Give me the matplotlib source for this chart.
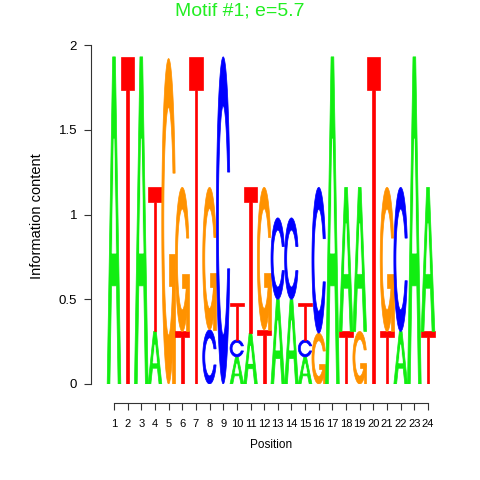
import numpy as np
import matplotlib
matplotlib.use("Agg")
import matplotlib.pyplot as plt
from matplotlib.patches import Polygon

plt.rcParams['font.family'] = ['Liberation Sans', 'DejaVu Sans']

positions = list(range(1, 25))
height_A = [1.93, 0, 1.93, 0.31, 0, 0, 0, 0, 0, 0.16, 0.30, 0, 0.50, 0.50, 0.16, 0, 1.93, 0.85, 0.85, 0, 0, 0.31, 1.93, 0.85]
height_C = [0, 0, 0, 0, 0, 0, 0, 0.32, 1.93, 0.10, 0, 0, 0.48, 0.48, 0.10, 0.86, 0, 0, 0, 0, 0, 0.85, 0, 0]
height_G = [0, 0, 0, 0, 1.92, 0.85, 0, 0.84, 0, 0, 0, 0.84, 0, 0, 0, 0.30, 0, 0, 0.31, 0, 0.85, 0, 0, 0]
height_T = [0, 1.93, 0, 0.85, 0, 0.31, 1.93, 0, 0, 0.22, 0.86, 0.32, 0, 0, 0.22, 0, 0, 0.31, 0, 1.93, 0.31, 0, 0, 0.31]
# letters from bottom to top in each column
stacks = ["A", "T", "A", "AT", "G", "TG", "T", "CG", "C", "ACT", "AT", "TG",
          "AC", "AC", "ACT", "GC", "A", "TA", "GA", "T", "TG", "AC", "A", "TA"]

heights = {"A": height_A, "C": height_C, "G": height_G, "T": height_T}
colors = {"A": "#11EE11", "C": "#0000FF", "G": "#FF9200", "T": "#FF0000"}
title_color = "#22EE22"


# letter shapes in a unit box, same outlines as seqLogo
def ring():
    a1 = np.linspace(0.3 + np.pi / 2, np.pi, 100)
    a2 = np.linspace(np.pi, 1.5 * np.pi, 100)
    xl = np.concatenate([0.5 + 0.5 * np.sin(a1), 0.5 + 0.5 * np.sin(a2)])
    yl = np.concatenate([0.5 + 0.5 * np.cos(a1), 0.5 + 0.5 * np.cos(a2)])
    x = np.concatenate([xl, xl[::-1]])
    y = np.concatenate([yl, 1 - yl[::-1]])
    ymax = (0.5 + 0.5 * np.cos(a1)).max()
    xi1 = 0.5 + 0.35 * np.sin(a1)
    yi1 = 0.5 + 0.35 * np.cos(a1)
    keep = yi1 <= ymax
    xi1, yi1 = xi1[keep], yi1[keep].copy()
    yi1[0] = ymax
    xi = np.concatenate([xi1, 0.5 + 0.35 * np.sin(a2)])
    yi = np.concatenate([yi1, 0.5 + 0.35 * np.cos(a2)])
    x1 = np.concatenate([xi, xi[::-1]])
    y1 = np.concatenate([yi, 1 - yi[::-1]])
    x = np.concatenate([x, x1[::-1]])
    y = np.concatenate([y, y1[::-1]])
    return x, y, (0.5 + 0.5 * np.sin(a1)).max()


def shapes(letter):
    if letter == "A":
        outer = (np.array([0, 4, 6, 10, 8, 6.8, 3.2, 2, 0]) / 10,
                 np.array([0, 10, 10, 0, 0, 3, 3, 0, 0]) / 10)
        inner = (np.array([3.6, 5, 6.4, 3.6]) / 10, np.array([4, 7.5, 4, 4]) / 10)
        return [(outer, colors["A"]), (inner, "white")]
    if letter == "T":
        return [((np.array([0, 10, 10, 6, 6, 4, 4, 0]) / 10,
                  np.array([10, 10, 9, 9, 0, 0, 9, 9]) / 10), colors["T"])]
    x, y, r1 = ring()
    if letter == "C":
        return [((x, y), colors["C"])]
    h1 = 0.4
    bar = (np.array([r1, 0.5, 0.5, r1 - 0.2, r1 - 0.2, r1, r1]),
           np.array([h1, h1, h1 - 0.1, h1 - 0.1, 0, 0, h1]))
    return [((x, y), colors["G"]), (bar, colors["G"])]


fig = plt.figure(figsize=(4.8, 4.8), dpi=100)

# pixel layout of the original
px_left, px_right = 91, 440
px_p1, px_p24 = 114, 428
unit = (px_p24 - px_p1) / 23
x0 = 1 - (px_p1 - px_left) / unit
x1 = x0 + (px_right - px_left) / unit
ax = fig.add_axes([px_left / 480, (480 - 384) / 480, (px_right - px_left) / 480, 339 / 480])
ax.set_xlim(x0, x1)
ax.set_ylim(0, 2)

for i, p in enumerate(positions):
    base = 0
    for letter in stacks[i]:
        ht = heights[letter][i]
        for (sx, sy), col in shapes(letter):
            pts = np.column_stack([p - 0.5 + sx, base + ht * sy])
            ax.add_patch(Polygon(pts, closed=True, facecolor=col, edgecolor=col, lw=0.5))
        base += ht

for s in ["top", "right"]:
    ax.spines[s].set_visible(False)
ax.spines["left"].set_bounds(0, 2)
ax.spines["bottom"].set_position(("outward", 14))
ax.spines["bottom"].set_bounds(1, 24)
for s in ["left", "bottom"]:
    ax.spines[s].set_linewidth(0.8)
    ax.spines[s].set_color("#333333")

ax.set_yticks([0, 0.5, 1, 1.5, 2])
ax.set_yticklabels(["0", "0.5", "1", "1.5", "2"])
ax.set_xticks(positions)
ax.set_xticklabels([str(p) for p in positions])
ax.tick_params(axis="y", direction="out", length=5, width=0.8, pad=5, labelsize=9.5, color="#333333")
ax.tick_params(axis="x", direction="out", length=5, width=0.8, pad=6, labelsize=8, color="#333333")

fig.text(37 / 480, 1 - 216 / 480, "Information content", rotation=90, ha="center", va="center", fontsize=10.5)
fig.text((px_p1 + px_p24) / 2 / 480, 1 - 445 / 480, "Position", ha="center", va="center", fontsize=8.5)
fig.text(0.5, 1 - 15 / 480, "Motif #1; e=5.7", ha="center", va="baseline", fontsize=14, color=title_color)

fig.savefig("out.png", dpi=100)
